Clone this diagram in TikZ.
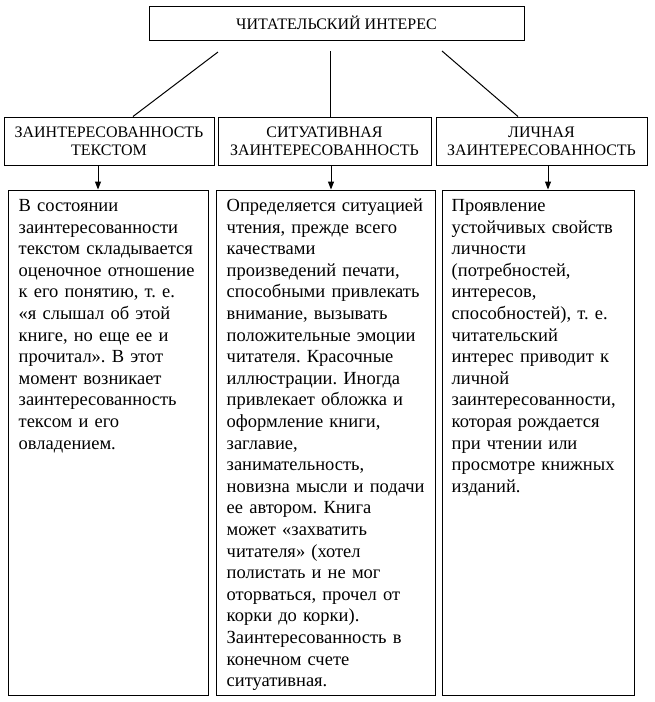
\documentclass[tikz,border=0pt]{standalone}
\usepackage{fontspec}
\setmainfont{Liberation Serif}
\usetikzlibrary{arrows.meta}
\frenchspacing
\begin{document}
\begin{tikzpicture}[x=1pt, y=-1pt,
    headbox/.style={draw, line width=1pt, font=\fontsize{16}{18}\selectfont, align=center, inner sep=0pt},
    textbox/.style={draw, line width=1pt, minimum height=505pt, inner sep=0pt},
    bodytext/.style={font=\fontsize{18.5}{21.6}\selectfont, text width=215pt, align=left, inner sep=0pt, anchor=base west},
    link/.style={line width=1pt},
    arr/.style={line width=1pt, -{Triangle[length=8pt, width=6pt]}}]
    \useasboundingbox (0,0) rectangle (655,702);
    % Top box
    \node[headbox, minimum width=375pt, minimum height=34pt] (interes) at (336.5,23) {ЧИТАТЕЛЬСКИЙ ИНТЕРЕС};
    % Second row
    \node[headbox, minimum width=210pt, minimum height=48pt] (tekst) at (109,141) {ЗАИНТЕРЕСОВАННОСТЬ\\ТЕКСТОМ};
    \node[headbox, minimum width=213pt, minimum height=48pt] (situat) at (324.5,141) {СИТУАТИВНАЯ\\ЗАИНТЕРЕСОВАННОСТЬ};
    \node[headbox, minimum width=211pt, minimum height=48pt] (lichn) at (541.5,141) {ЛИЧНАЯ\\ЗАИНТЕРЕСОВАННОСТЬ};
    % Lines from the top box (they stop short of it)
    \coordinate (linkL) at (218,52);
    \coordinate (linkM) at (330,51);
    \coordinate (linkR) at (442,51);
    \draw[link] (linkL) -- ([xshift=24pt]tekst.north);
    \draw[link] (linkM) -- ([xshift=5.5pt]situat.north);
    \draw[link] (linkR) -- ([xshift=-23.5pt]lichn.north);
    % Text boxes
    \node[textbox, minimum width=200pt] (tekstbox) at (108,442.5) {};
    \node[textbox, minimum width=219pt] (situatbox) at (325.5,442.5) {};
    \node[textbox, minimum width=192pt] (lichnbox) at (538,442.5) {};
    % Arrows down
    \draw[arr] ([xshift=-11pt]tekst.south) -- ([xshift=-10pt]tekstbox.north);
    \draw[arr] ([xshift=6.5pt]situat.south) -- ([xshift=5.5pt]situatbox.north);
    \draw[arr] ([xshift=6.5pt]lichn.south) -- ([xshift=10pt]lichnbox.north);
    % Texts
    \node[bodytext] (teksttxt) at ([xshift=11pt, yshift=-22pt]tekstbox.north west)
        {В состоянии\\заинтересованности\\текстом складывается\\оценочное отношение\\к его понятию, т.~е.\\«я слышал об этой\\книге, но еще ее и\\прочитал». В этот\\момент возникает\\заинтересованность\\тексом и его\\овладением.};
    \node[bodytext] (situattxt) at ([xshift=11pt, yshift=-22pt]situatbox.north west)
        {Определяется ситуацией\\чтения, прежде всего\\качествами\\произведений печати,\\способными привлекать\\внимание, вызывать\\положительные эмоции\\читателя. Красочные\\иллюстрации. Иногда\\привлекает обложка и\\оформление книги,\\заглавие,\\занимательность,\\новизна мысли и подачи\\ее автором. Книга\\может «захватить\\читателя» (хотел\\полистать и не мог\\оторваться, прочел от\\корки до корки).\\Заинтересованность в\\конечном счете\\ситуативная.};
    \node[bodytext] (lichntxt) at ([xshift=10pt, yshift=-22pt]lichnbox.north west)
        {Проявление\\устойчивых свойств\\личности\\(потребностей,\\интересов,\\способностей), т.~е.\\читательский\\интерес приводит к\\личной\\заинтересованности,\\которая рождается\\при чтении или\\просмотре книжных\\изданий.};
\end{tikzpicture}
\end{document}
